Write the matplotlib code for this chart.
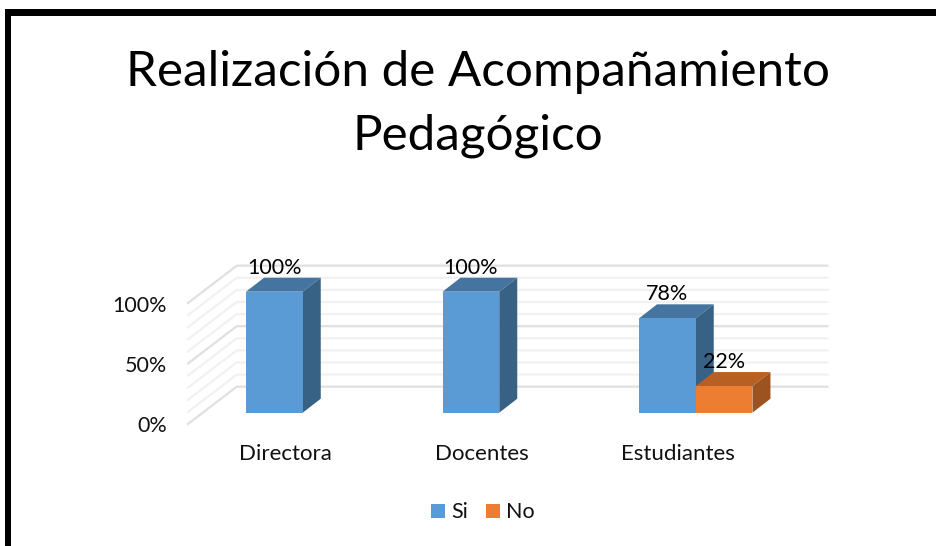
import matplotlib
matplotlib.use('Agg')
import matplotlib.pyplot as plt
from matplotlib.patches import Polygon, Rectangle

# dados do grafico
categorias = ['Directora', 'Docentes', 'Estudiantes']
si = [100, 100, 78]
no = [0, 0, 22]
etiquetas_y = [0, 50, 100]
grade_y = [0, 10, 20, 30, 40, 50, 60, 70, 80, 90, 100]

AZUL = ['#5b9bd5', '#44749f', '#376286']
LARANJA = ['#ed7d31', '#b85f22', '#9c5320']

W, H = 937, 546
plt.rcParams['font.family'] = ['Lato', 'DejaVu Sans']

fig = plt.figure(figsize=(W / 100, H / 100), dpi=100)
fundo = fig.add_axes([0, 0, 1, 1])
fundo.set_xlim(0, W)
fundo.set_ylim(H, 0)
fundo.axis('off')

# moldura preta
fundo.add_patch(Rectangle((5, 9), W - 5, 6.5, color='black', lw=0))
fundo.add_patch(Rectangle((5, 9), 6.5, H - 9, color='black', lw=0))

# eixo no plano da frente das barras
x0, x1 = 204.5, 794
y0, y100 = 412.7, 291.7
ax = fig.add_axes([x0 / W, 1 - y0 / H, (x1 - x0) / W, (y0 - y100) / H])
ax.set_xlim(-0.5, 2.5)
ax.set_ylim(0, 100)
ax.axis('off')
ax.patch.set_alpha(0)

# profundidade em unidades de dados
dx = 18 / 196.5
dy = 14 / 1.21
larg = 56.7 / 196.5

# paredes do fundo
parede_x0, parede_x1, parede_xf = -0.336, 2.67, -0.584
parede_y, parede_yf = 21.5, -9.3
for v in grade_y:
    maior = v in etiquetas_y
    cor = '#e0e0e0' if maior else '#f1f1f1'
    ax.plot([parede_xf, parede_x0, parede_x1], [parede_yf + v, parede_y + v, parede_y + v],
            color=cor, lw=1.6, clip_on=False, solid_joinstyle='miter', zorder=1)


def barra(x, v, cores, z):
    xr = x + larg
    ax.add_patch(Polygon([(x, v), (xr, v), (xr + dx, v + dy), (x + dx, v + dy)],
                         color=cores[1], lw=0, clip_on=False, zorder=z))
    ax.add_patch(Polygon([(xr, 0), (xr + dx, dy), (xr + dx, v + dy), (xr, v)],
                         color=cores[2], lw=0, clip_on=False, zorder=z))
    ax.add_patch(Rectangle((x, 0), larg, v, color=cores[0], lw=0, clip_on=False, zorder=z + 1))


for i, cat in enumerate(categorias):
    barra(i - larg, si[i], AZUL, 3)
    if no[i] > 0:
        barra(i, no[i], LARANJA, 5)
    ax.text(i - 0.09, -34.5, cat, ha='center', va='center', fontsize=16, color='#111111', clip_on=False)
    # rotulo centrado na face da barra
    ax.text(i - larg / 2, si[i] + 20, f'{si[i]}%', ha='center', va='center', fontsize=15.5, color='black', zorder=8)
    if no[i] > 0:
        ax.text(i + larg / 2, no[i] + 20, f'{no[i]}%', ha='center', va='center', fontsize=15.5, color='black', zorder=8)

# rotulos do eixo y
for v in etiquetas_y:
    fundo.text(167, 426 - v * 1.2, f'{v}%', ha='right', va='center', fontsize=15.5, color='#111111')

# titulo
fundo.text(478, 72, 'Realización de Acompañamiento', ha='center', va='center', fontsize=35.6, color='black')
fundo.text(478, 136, 'Pedagógico', ha='center', va='center', fontsize=35.6, color='black')

# legenda
fundo.add_patch(Rectangle((431, 504), 14, 14, color=AZUL[0], lw=0))
fundo.text(451, 511.5, 'Si', ha='left', va='center', fontsize=15.5, color='#111111')
fundo.add_patch(Rectangle((486, 504), 14, 14, color=LARANJA[0], lw=0))
fundo.text(506, 511.5, 'No', ha='left', va='center', fontsize=15.5, color='#111111')

fig.savefig('out.png', dpi=100)
